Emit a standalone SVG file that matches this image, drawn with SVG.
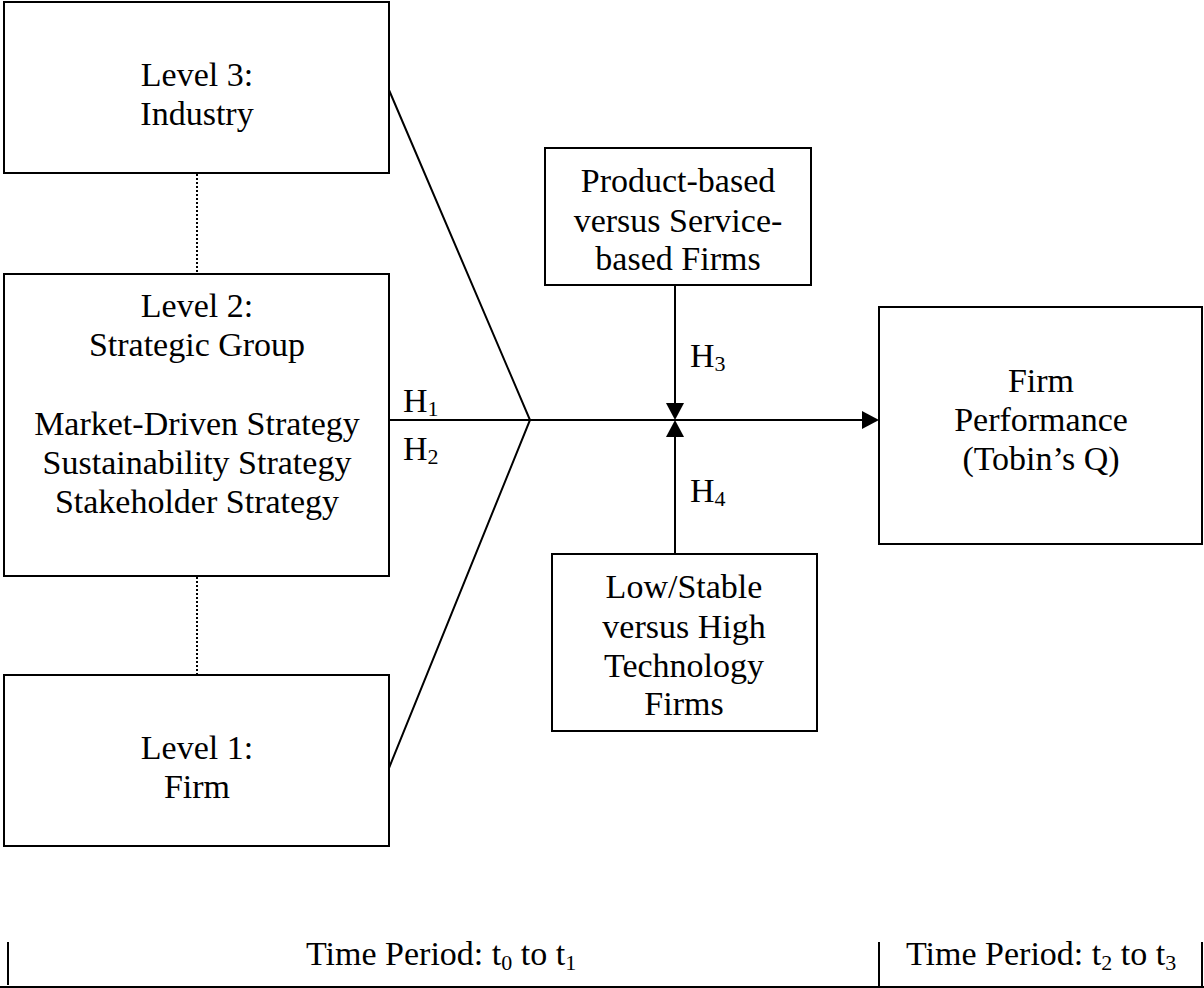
<svg xmlns="http://www.w3.org/2000/svg" width="1204" height="988" viewBox="0 0 1204 988">
<style>
.box{fill:#fff;stroke:#000;stroke-width:2}
.ln{stroke:#000;stroke-width:2;fill:none}
.dot{stroke:#000;stroke-width:2;stroke-dasharray:2,2;fill:none}
text{font-family:"Liberation Serif","Times New Roman",serif;font-size:34px;fill:#000}
.c{text-anchor:middle}
.sub{font-size:22px}
</style>
<rect width="1204" height="988" fill="#fff"/>
<g id="connectors">
<line class="dot" x1="197" y1="174" x2="197" y2="273"/>
<line class="dot" x1="197" y1="577" x2="197" y2="675"/>
<polyline class="ln" points="389,90 530,420 389,768"/>
<line class="ln" x1="389" y1="420" x2="864" y2="420"/>
<polygon points="879,420 862,411 862,429" fill="#000"/>
<line class="ln" x1="675" y1="285" x2="675" y2="405"/>
<polygon points="675,420 666,403 684,403" fill="#000"/>
<line class="ln" x1="675" y1="554" x2="675" y2="435"/>
<polygon points="675,420 666,437 684,437" fill="#000"/>
<text x="403" y="412">H<tspan class="sub" dy="4">1</tspan></text>
<text x="403" y="460">H<tspan class="sub" dy="4">2</tspan></text>
<text x="690" y="367">H<tspan class="sub" dy="4">3</tspan></text>
<text x="690" y="502">H<tspan class="sub" dy="4">4</tspan></text>
</g>
<g id="level3">
<rect class="box" x="4" y="2" width="385" height="171"/>
<text class="c" x="197" y="86">Level 3:</text>
<text class="c" x="197" y="125">Industry</text>
</g>
<g id="level2">
<rect class="box" x="4" y="274" width="385" height="302"/>
<text class="c" x="197" y="317">Level 2:</text>
<text class="c" x="197" y="356">Strategic Group</text>
<text class="c" x="197" y="435">Market-Driven Strategy</text>
<text class="c" x="197" y="474">Sustainability Strategy</text>
<text class="c" x="197" y="513">Stakeholder Strategy</text>
</g>
<g id="level1">
<rect class="box" x="4" y="675" width="385" height="171"/>
<text class="c" x="197" y="759">Level 1:</text>
<text class="c" x="197" y="798">Firm</text>
</g>
<g id="product">
<rect class="box" x="545" y="148" width="266" height="137"/>
<text class="c" x="678" y="192">Product-based</text>
<text class="c" x="678" y="232">versus Service-</text>
<text class="c" x="678" y="270">based Firms</text>
</g>
<g id="technology">
<rect class="box" x="552" y="554" width="265" height="177"/>
<text class="c" x="684" y="598">Low/Stable</text>
<text class="c" x="684" y="638">versus High</text>
<text class="c" x="684" y="677">Technology</text>
<text class="c" x="684" y="715">Firms</text>
</g>
<g id="performance">
<rect class="box" x="879" y="307" width="323" height="237"/>
<text class="c" x="1041" y="392">Firm</text>
<text class="c" x="1041" y="431">Performance</text>
<text class="c" x="1041" y="470">(Tobin’s Q)</text>
</g>
<g id="timeline">
<line class="ln" x1="0" y1="987" x2="1204" y2="987"/>
<line class="ln" x1="8" y1="942" x2="8" y2="985"/>
<line class="ln" x1="879" y1="942" x2="879" y2="988"/>
<line class="ln" x1="1202" y1="942" x2="1202" y2="988"/>
<text x="306" y="965">Time Period: t<tspan class="sub" dy="5">0</tspan><tspan dy="-5"> to t</tspan><tspan class="sub" dy="5">1</tspan></text>
<text x="906" y="965">Time Period: t<tspan class="sub" dy="5">2</tspan><tspan dy="-5"> to t</tspan><tspan class="sub" dy="5">3</tspan></text>
</g>
</svg>
